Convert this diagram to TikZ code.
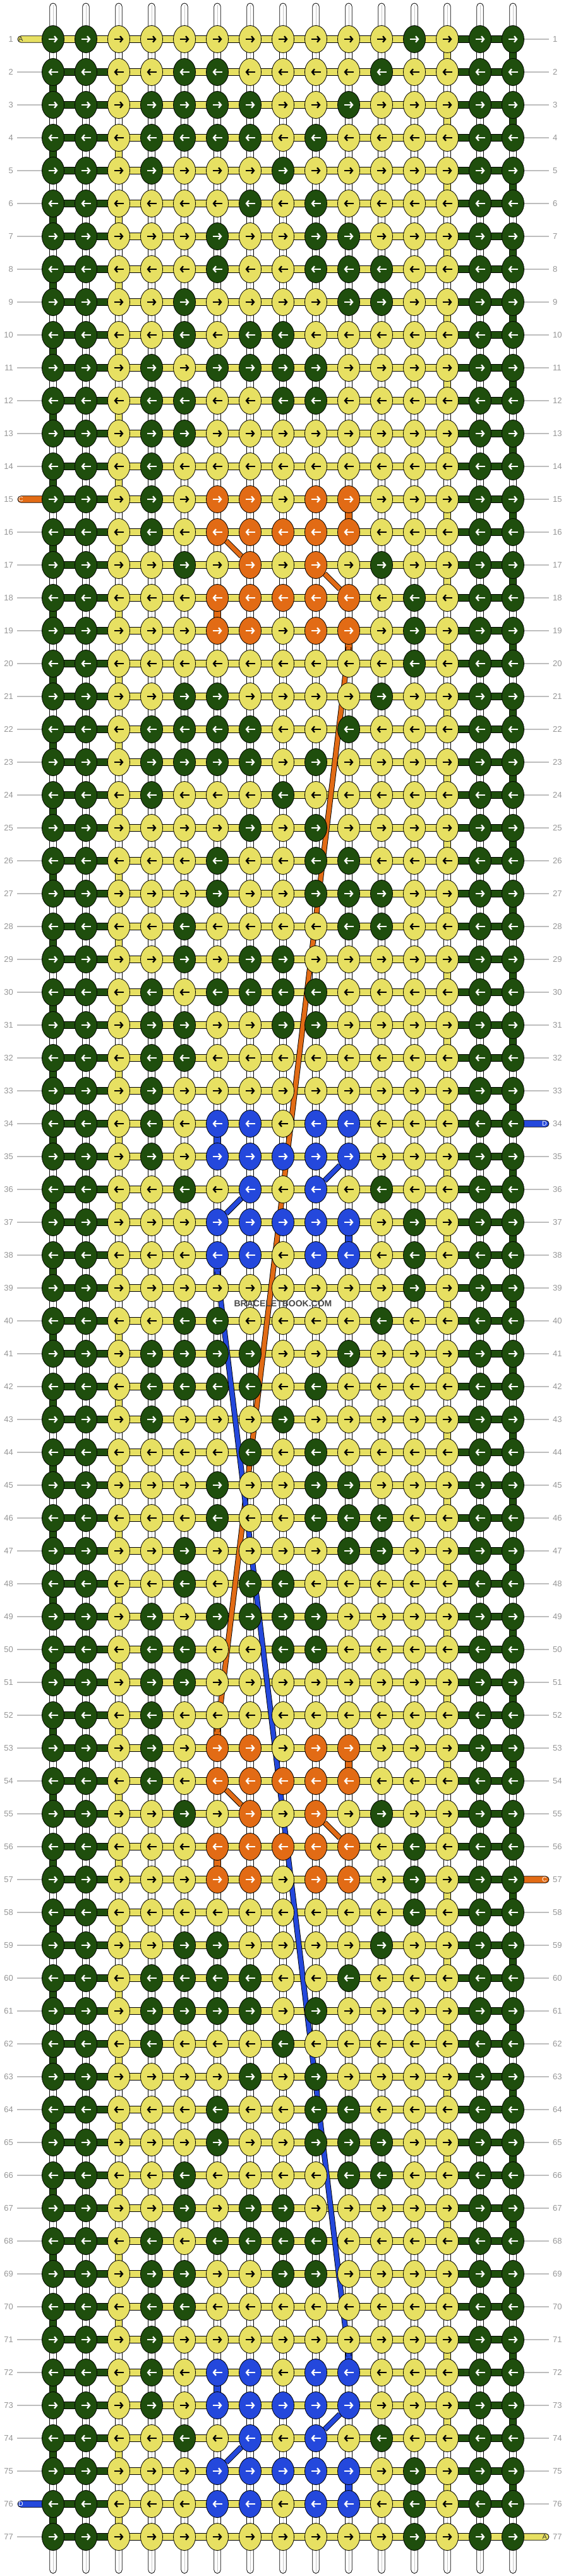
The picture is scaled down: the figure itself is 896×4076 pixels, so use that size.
\documentclass[tikz,border=0pt]{standalone}
\usepackage{fontspec}
\setmainfont{Liberation Sans}
\usetikzlibrary{arrows.meta,shapes.geometric,calc}

\definecolor{kgreen}{RGB}{31,78,13}
\definecolor{kyellow}{RGB}{231,224,98}
\definecolor{korange}{RGB}{226,107,21}
\definecolor{kblue}{RGB}{36,72,220}
\definecolor{numgrey}{RGB}{150,150,150}
\definecolor{linegrey}{RGB}{190,190,190}

\pgfdeclarelayer{strings}
\pgfdeclarelayer{floats}
\pgfsetlayers{strings,floats,main}

% knot colours of the 19 rows that repeat, m = motif string
\newcommand{\setrow}[2]{\expandafter\def\csname knotrow#1\endcsname{#2}}
\setrow{1}{g,g,y,y,y,y,y,y,y,y,y,g,y,g,g}
\setrow{2}{g,g,y,y,g,g,y,y,y,y,g,y,y,g,g}
\setrow{3}{g,g,y,g,g,g,g,y,y,g,y,y,y,g,g}
\setrow{4}{g,g,y,g,g,g,g,y,g,y,y,y,y,g,g}
\setrow{5}{g,g,y,g,y,y,y,g,y,y,y,y,y,g,g}
\setrow{6}{g,g,y,y,y,y,g,y,g,y,y,y,y,g,g}
\setrow{7}{g,g,y,y,y,g,y,y,g,g,y,y,y,g,g}
\setrow{8}{g,g,y,y,y,g,y,y,g,g,g,y,y,g,g}
\setrow{9}{g,g,y,y,g,y,y,y,y,g,g,y,y,g,g}
\setrow{10}{g,g,y,y,g,y,g,g,y,y,y,y,y,g,g}
\setrow{11}{g,g,y,g,y,g,g,g,g,y,y,y,y,g,g}
\setrow{12}{g,g,y,g,g,y,y,g,g,y,y,y,y,g,g}
\setrow{13}{g,g,y,g,g,y,y,y,y,y,y,y,y,g,g}
\setrow{14}{g,g,y,g,y,y,y,y,y,y,y,y,y,g,g}
\setrow{15}{g,g,y,g,y,m,m,y,m,m,y,y,y,g,g}
\setrow{16}{g,g,y,g,y,m,m,m,m,m,y,y,y,g,g}
\setrow{17}{g,g,y,y,g,y,m,y,m,y,g,y,y,g,g}
\setrow{18}{g,g,y,y,y,m,m,m,m,m,y,g,y,g,g}
\setrow{19}{g,g,y,y,y,m,m,y,m,m,y,g,y,g,g}

\begin{document}
\begin{tikzpicture}[x=1pt, y=-1pt,
    knot/.style={ellipse, draw=black, line width=0.8pt, minimum width=35pt, minimum height=43pt, inner sep=0pt},
    knotarrow/.style={line width=2.3pt, -{Straight Barb[length=4pt, width=9.5pt]}},
    seg/.style={draw=black, line width=0.8pt},
    floatline/.style={draw=black, double=#1, double distance=7pt, line width=0.9pt},
    rownum/.style={text=numgrey, font=\fontsize{13}{13}\selectfont, inner sep=0pt},
    numline/.style={draw=linegrey, line width=1.2pt},
    endletter/.style={font=\fontsize{10.5}{10.5}\selectfont, inner sep=0pt}]
\useasboundingbox (0,0) rectangle (896,4076);

% knots
\foreach \r in {1,...,77} {
  \pgfmathtruncatemacro\bb{mod(\r-1,19)+1}
  \pgfmathsetmacro\yy{62+(\r-1)*52}
  \ifnum\r<30 \def\mc{korange}\else\ifnum\r<45 \def\mc{kblue}\else\ifnum\r<65 \def\mc{korange}\else\def\mc{kblue}\fi\fi\fi
  \ifodd\r \def\dir{1}\else\def\dir{-1}\fi
  \edef\lst{\csname knotrow\bb\endcsname}
  \foreach \kc [count=\j] in \lst {
    \def\fc{kyellow}\def\ac{black}
    \if g\kc \def\fc{kgreen}\def\ac{white}\fi
    \if m\kc \let\fc\mc \def\ac{white}\fi
    \node[knot, fill=\fc] (k-\r-\j) at ({84+(\j-1)*52}, \yy) {};
    \draw[knotarrow, color=\ac] (k-\r-\j.center) ++(-7.5*\dir, 0) -- ++(15*\dir, 0);
  }
}

\begin{pgfonlayer}{strings}
\fill[white] (0,0) rectangle (896,4076);
% across the rows
\foreach \r in {1,...,77} {
  \foreach \j [evaluate=\j as \n using int(\j+1)] in {1,...,14} {
    \def\sc{kyellow}
    \ifnum\j<3 \ifnum\r>1 \def\sc{kgreen}\fi\fi
    \ifnum\j>12 \ifnum\r<77 \def\sc{kgreen}\fi\fi
    \draw[seg, fill=\sc] ([yshift=5.2pt]k-\r-\j.center) rectangle ([yshift=-5.2pt]k-\r-\n.center);
  }
}
% down between the rows
\def\wh{white}
\foreach \r [evaluate=\r as \n using int(\r+1)] in {1,...,76} {
  \foreach \j in {1,...,15} {
    \def\sc{white}
    \ifodd\r
      \ifnum\j=13 \def\sc{kyellow}\fi
      \ifnum\j=15 \def\sc{kgreen}\fi
    \else
      \ifnum\j=1 \def\sc{kgreen}\fi
      \ifnum\j=3 \def\sc{kyellow}\fi
    \fi
    \draw[seg, fill=\sc] ([xshift=-5.2pt]k-\r-\j.center) rectangle ([xshift=5.2pt]k-\n-\j.center);
    \ifx\sc\wh \draw[gray!45, line width=0.6pt] (k-\r-\j) -- (k-\n-\j); \fi
  }
}
% motif strings going down
\foreach \r/\j/\sc in {15/10/korange, 18/6/korange, 19/10/korange, 52/6/korange, 53/10/korange, 56/6/korange,
    34/6/kblue, 37/10/kblue, 38/6/kblue, 71/10/kblue, 72/6/kblue, 75/10/kblue} {
  \pgfmathtruncatemacro\n{\r+1}
  \draw[seg, fill=\sc] ([xshift=-5.2pt]k-\r-\j.center) rectangle ([xshift=5.2pt]k-\n-\j.center);
}
% top and bottom ends
\foreach \j in {1,...,15} {
  \draw[seg, fill=white] ([xshift=-5.2pt]k-1-\j.center) -- ++(0,-51.8) arc (180:0:5.2pt) -- ([xshift=5.2pt]k-1-\j.center);
  \draw[gray!45, line width=0.6pt] (k-1-\j) -- ++(0,-54);
  \draw[seg, fill=white] ([xshift=-5.2pt]k-77-\j.center) -- ++(0,52.5) arc (180:360:5.2pt) -- ([xshift=5.2pt]k-77-\j.center);
  \draw[gray!45, line width=0.6pt] (k-77-\j) -- ++(0,55);
}
% loose ends of the coloured strings
\foreach \r/\sc/\tc/\txt in {1/kyellow/black!80/A, 15/korange/white/C, 76/kblue/white/D} {
  \draw[seg, fill=\sc] ([yshift=5.2pt]k-\r-1.center) -- ++(-50.8,0) arc (90:270:5.2pt) -- ([yshift=-5.2pt]k-\r-1.center);
  \node[endletter, text=\tc] (end-\r) at ([xshift=-51pt]k-\r-1.center) {\txt};
}
\foreach \r/\sc/\tc/\txt in {34/kblue/white/D, 57/korange/white/C, 77/kyellow/black!80/A} {
  \draw[seg, fill=\sc] ([yshift=5.2pt]k-\r-15.center) -- ++(51.8,0) arc (90:-90:5.2pt) -- ([yshift=-5.2pt]k-\r-15.center);
  \node[endletter, text=\tc] (end-\r) at ([xshift=50pt]k-\r-15.center) {\txt};
}
% row number ticks
\foreach \r in {1,...,77} {
  \ifnum\r=1 \else\ifnum\r=15 \else\ifnum\r=76 \else
    \draw[numline] (k-\r-1.center) -- ++(-57,0);
  \fi\fi\fi
  \ifnum\r=34 \else\ifnum\r=57 \else\ifnum\r=77 \else
    \draw[numline] (k-\r-15.center) -- ++(57,0);
  \fi\fi\fi
}
\end{pgfonlayer}

% strings carried behind the knots
\begin{pgfonlayer}{floats}
\draw[floatline=korange] ($(k-19-10)!0.5!(k-20-10)$) -- ($(k-52-6)!0.5!(k-53-6)$);
\draw[floatline=kblue] ($(k-38-6)!0.5!(k-39-6)$) -- ($(k-71-10)!0.5!(k-72-10)$);
\foreach \ka/\kb/\sc in {16-6/17-7/korange, 17-9/18-10/korange, 54-6/55-7/korange, 55-9/56-10/korange,
    35-10/36-9/kblue, 36-7/37-6/kblue, 73-10/74-9/kblue, 74-7/75-6/kblue}
  \draw[floatline=\sc] (k-\ka) -- (k-\kb);
\end{pgfonlayer}

% row numbers
\foreach \r in {1,...,77} {
  \node[rownum, anchor=east] (nl-\r) at ($(k-\r-1)+(-63,0)$) {\r};
  \node[rownum, anchor=west] (nr-\r) at ($(k-\r-15)+(63,0)$) {\r};
}

\node[font=\bfseries\fontsize{14}{14}\selectfont, text=black!72, inner sep=0pt] (wm) at (448,2063) {BRACELETBOOK.COM};
\end{tikzpicture}
\end{document}
